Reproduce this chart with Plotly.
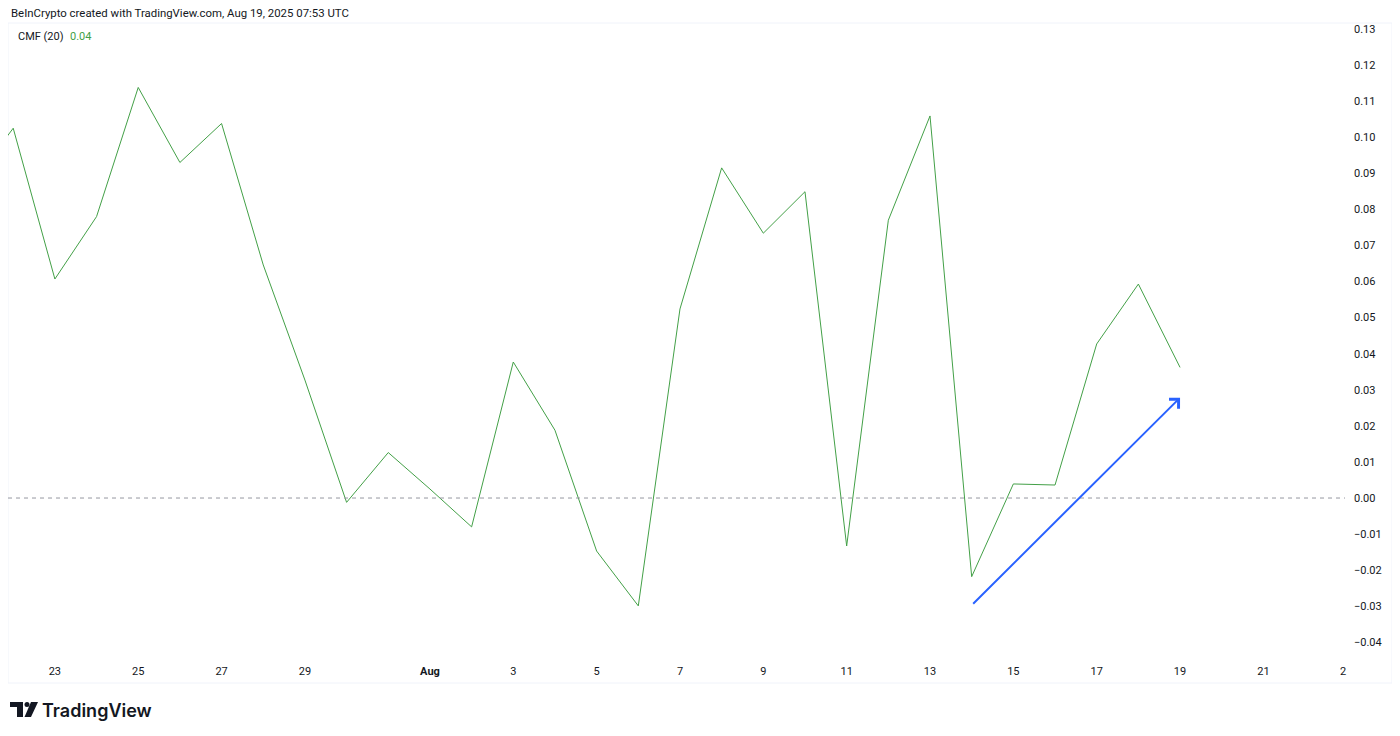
import plotly.graph_objects as go

W, H = 1400, 736
OX, OY = 8, 8  # page body margin offset

# ---- data ----
dates = [
    "2025-07-21", "2025-07-22", "2025-07-23", "2025-07-24", "2025-07-25", "2025-07-26",
    "2025-07-27", "2025-07-28", "2025-07-29", "2025-07-30", "2025-07-31", "2025-08-01",
    "2025-08-02", "2025-08-03", "2025-08-04", "2025-08-05", "2025-08-06", "2025-08-07",
    "2025-08-08", "2025-08-09", "2025-08-10", "2025-08-11", "2025-08-12", "2025-08-13",
    "2025-08-14", "2025-08-15", "2025-08-16", "2025-08-17", "2025-08-18", "2025-08-19",
]
cmf = [
    0.087, 0.1025, 0.0607, 0.0780, 0.1138, 0.0930,
    0.1038, 0.0646, 0.0327, -0.0012, 0.0126, 0.0025,
    -0.0080, 0.0377, 0.0188, -0.0147, -0.0299, 0.0524,
    0.0915, 0.0734, 0.0849, -0.0133, 0.0770, 0.1059,
    -0.0218, 0.0039, 0.0036, 0.0427, 0.0593, 0.0362,
]
x_tick_vals = ["2025-07-23", "2025-07-25", "2025-07-27", "2025-07-29", "2025-08-01",
               "2025-08-03", "2025-08-05", "2025-08-07", "2025-08-09", "2025-08-11",
               "2025-08-13", "2025-08-15", "2025-08-17", "2025-08-19", "2025-08-21"]
x_tick_text = ["23", "25", "27", "29", "<b>Aug</b>", "3", "5", "7", "9", "11",
               "13", "15", "17", "19", "21"]
y_tick_vals = [0.13, 0.12, 0.11, 0.10, 0.09, 0.08, 0.07, 0.06, 0.05, 0.04, 0.03,
               0.02, 0.01, 0.00, -0.01, -0.02, -0.03, -0.04]
arrow_start = ("2025-08-14", -0.0297)
arrow_end = ("2025-08-19", 0.0278)
last_value_label = "0.04"

GREEN = "#43a047"
BLUE = "#2962ff"
TEXT = "#131722"
FONT = "Roboto"


def px(x):
    return (x - OX) / W


def py(y):
    return 1 - (y - OY) / H


fig = go.Figure()
fig.add_trace(go.Scatter(
    x=dates, y=cmf, mode="lines",
    line=dict(color=GREEN, width=1),
    hoverinfo="skip", showlegend=False,
))

fig.update_layout(
    width=W, height=H,
    margin=dict(l=0, r=0, t=0, b=0),
    paper_bgcolor="white", plot_bgcolor="white",
    font=dict(family=FONT, color=TEXT, size=11),
    xaxis=dict(
        domain=[px(8), px(1345)],
        type="date",
        range=["2025-07-21 21:00", "2025-08-22 23:00"],
        tickvals=x_tick_vals, ticktext=x_tick_text,
        showgrid=False, zeroline=False, showline=False,
        ticks="", tickfont=dict(size=11, color=TEXT),
        ticklabelstandoff=8,
    ),
    yaxis=dict(
        domain=[py(655), py(23)],
        range=[-0.04351, 0.13166],
        side="right",
        tickvals=y_tick_vals, tickformat=".2f",
        showgrid=False, zeroline=False, showline=False,
        ticks="", tickfont=dict(size=11, color=TEXT),
        ticklabelstandoff=8,
    ),
)

# zero dashed line
fig.add_shape(type="line", xref="paper", yref="y",
              x0=px(8), x1=px(1345), y0=0, y1=0,
              line=dict(color="#9598a1", width=1, dash="4px,4px"))

# faint frame
fig.add_shape(type="rect", xref="paper", yref="paper",
              x0=px(8), x1=px(1392), y0=py(683), y1=py(23),
              line=dict(color="#f0f3fa", width=1), layer="below")

# arrow
fig.add_annotation(
    x=arrow_end[0], y=arrow_end[1], ax=arrow_start[0], ay=arrow_start[1],
    xref="x", yref="y", axref="x", ayref="y",
    showarrow=True, arrowhead=4, arrowsize=1.3, arrowwidth=2,
    arrowcolor=BLUE, text="",
)

# header texts
fig.add_annotation(
    xref="paper", yref="paper", x=px(9), y=py(13), xanchor="left", yanchor="middle",
    text="BeInCrypto created with TradingView.com, Aug 19, 2025 07:53 UTC",
    showarrow=False, font=dict(size=11.4, color=TEXT, family=FONT),
)
fig.add_annotation(
    xref="paper", yref="paper", x=px(16), y=py(37), xanchor="left", yanchor="middle",
    text="CMF (20)", showarrow=False, font=dict(size=11, color=TEXT, family=FONT),
)
fig.add_annotation(
    xref="paper", yref="paper", x=px(68), y=py(37), xanchor="left", yanchor="middle",
    text=last_value_label, showarrow=False, font=dict(size=11, color=GREEN, family=FONT),
)
# clipped tick label at the right edge
fig.add_annotation(
    xref="paper", yref="paper", x=px(1343), y=py(671), xanchor="center", yanchor="middle",
    text="2", showarrow=False, font=dict(size=11, color=TEXT, family=FONT),
)

# TradingView logo
fig.add_shape(type="rect", xref="paper", yref="paper",
              x0=px(10), x1=px(23), y0=py(707), y1=py(702),
              line=dict(width=0), fillcolor=TEXT)
fig.add_shape(type="rect", xref="paper", yref="paper",
              x0=px(17), x1=px(23), y0=py(717), y1=py(702),
              line=dict(width=0), fillcolor=TEXT)
fig.add_shape(type="circle", xref="paper", yref="paper",
              x0=px(24.5), x1=px(29.5), y0=py(707), y1=py(702),
              line=dict(width=0), fillcolor=TEXT)
fig.add_shape(type="path", xref="paper", yref="paper",
              path=(f"M {px(31)},{py(702)} L {px(38)},{py(702)} "
                    f"L {px(31)},{py(717)} L {px(24.5)},{py(717)} Z"),
              line=dict(width=0), fillcolor=TEXT)
fig.add_annotation(
    xref="paper", yref="paper", x=px(40), y=py(710), xanchor="left", yanchor="middle",
    text="TradingView", showarrow=False,
    font=dict(size=18, color=TEXT, family="Inter", weight=600),
)

fig.write_html("out.html")
